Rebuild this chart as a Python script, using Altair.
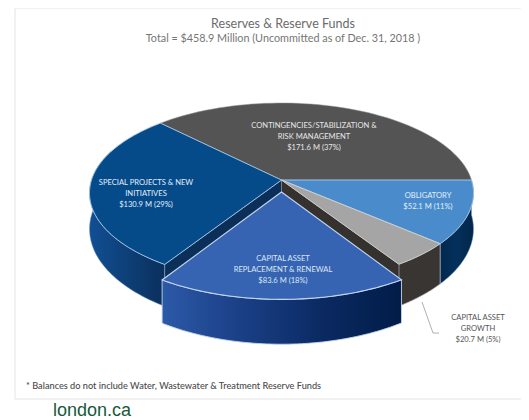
import numpy as np
import altair as alt

# ---- data ----
categories = ["OBLIGATORY", "CAPITAL ASSET GROWTH", "CAPITAL ASSET REPLACEMENT & RENEWAL",
              "SPECIAL PROJECTS & NEW INITIATIVES", "CONTINGENCIES/STABILIZATION & RISK MANAGEMENT"]
values = [52.1, 20.7, 83.6, 130.9, 171.6]
value_labels = ["$52.1 M (11%)", "$20.7 M (5%)", "$83.6 M (18%)", "$130.9 M (29%)", "$171.6 M (37%)"]
label_lines = [["OBLIGATORY"], ["CAPITAL ASSET", "GROWTH"], ["CAPITAL ASSET", "REPLACEMENT & RENEWAL"],
               ["SPECIAL PROJECTS & NEW", "INITIATIVES"], ["CONTINGENCIES/STABILIZATION &", "RISK MANAGEMENT"]]
title_text = "Reserves & Reserve Funds"
subtitle_text = "Total = $458.9 Million (Uncommitted as of Dec. 31, 2018 )"
foot_text = "* Balances do not include Water, Wastewater & Treatment Reserve Funds"
site_text = "london.ca"

# ---- layout (page pixels minus the 8px margin) ----
W, H = 513, 412
CX, CY, RX, RY, K = 273.5, 185, 192, 90, 0.144
PULL = 0.133
FONT = "Lato"


def proj(x, y):
    """Perspective view of a point of the unit disc, to chart pixels."""
    d = 1 - K * y
    return CX + RX * x * np.sqrt(1 - K * K) / d, CY + RY * (y - K) / d


def rim(t0, t1, dy=0.0, n=60):
    t = np.radians(np.linspace(t0, t1, n))
    return proj(np.cos(t), np.sin(t) + dy)


def depth(py):
    return 36 + 7.5 * (py - CY) / RY


def gradient(*colors):
    stops = [alt.GradientStop(color=c, offset=i / (len(colors) - 1)) for i, c in enumerate(colors)]
    return alt.Gradient(gradient="linear", stops=stops, x1=0, x2=1, y1=0, y2=0)


def face(xs, ys, fill, stroke, sw=0.9):
    ring = [[float(a), float(b)] for a, b in zip(xs, ys)]
    ring.append(ring[0])
    feature = {"type": "Feature", "properties": {}, "geometry": {"type": "Polygon", "coordinates": [ring]}}
    return alt.Chart(alt.Data(values=[feature])).mark_geoshape(
        fill=fill, stroke=stroke, strokeWidth=sw
    ).project(type="identity", scale=1, translate=[0, 0])


def top_face(t0, t1, fill, stroke, dy=0.0, sw=0.9):
    xs, ys = rim(t0, t1, dy)
    ax, ay = proj(0.0, dy)
    return face(np.r_[ax, xs], np.r_[ay, ys], fill, stroke, sw)


def outer_wall(t0, t1, fill, stroke, dy=0.0, sw=0.9):
    xs, ys = rim(t0, t1, dy)
    low = ys + depth(ys)
    return face(np.r_[xs, xs[::-1]], np.r_[ys, low[::-1]], fill, stroke, sw)


def inner_wall(t, fill, stroke):
    ax, ay = proj(0.0, 0.0)
    rx, ry = rim(t, t, n=1)
    return face([ax, rx[0], rx[0], ax],
                [ay, ry[0], ry[0] + depth(ry[0]), ay + depth(ay)], fill, stroke, 0.6)


total = sum(values)
edges = np.r_[0, np.cumsum(values)] / total * 360
o0, o1 = edges[0], edges[1]
g0, g1 = edges[1], edges[2]
c0, c1 = edges[2], edges[3]
s0, s1 = edges[3], edges[4]
k0, k1 = edges[4], edges[5]
EDGE, EDGE2 = "#a9c6e4", "#c3d6ec"

frame = face([7, W + 9, W + 9, 7], [0, 0, 391, 391], "#ffffff", "#e4e4e4", 1)

layers = [
    frame,
    outer_wall(0, o1, gradient("#02294f", "#03305b", "#02264a"), "#7fa3c8", sw=0.5),
    outer_wall(g0, g1, "#383533", "#b5b5b5", sw=0.7),
    outer_wall(c1, 200, gradient("#114f93", "#0e3f78", "#0a2f5c"), "#7fa3c8", sw=0.5),
    inner_wall(c1, "#0b2f58", "#7fa3c8"),
    inner_wall(g1, "#34312f", "#8a8a8a"),
    top_face(k0, k1, "#545454", "#8c9aa8", sw=0.5),
    top_face(s0, s1, "#054b8a", EDGE),
    top_face(o0, o1, "#4a8ccb", EDGE),
    top_face(g0, g1, "#a5a5a5", "#d0d0d0"),
    outer_wall(c0, c1, gradient("#2c59a8", "#1a3f85", "#0b2a63", "#011c47"), EDGE2, dy=PULL),
    top_face(c0, c1, "#3764b2", EDGE2, dy=PULL, sw=1.1),
]


def text_layer(lines, x, y, size, color, **kw):
    rows = [{"t": s, "x": x, "y": y + i * kw.get("lh", size * 1.35)} for i, s in enumerate(lines)]
    kw.pop("lh", None)
    return alt.Chart(alt.Data(values=rows)).mark_text(
        fontSize=size, color=color, font=FONT, baseline="middle", **kw
    ).encode(x=alt.X("x:Q", scale=None), y=alt.Y("y:Q", scale=None), text="t:N")


# label anchors: category index -> centre of first line
anchors = {0: (420, 188, "#e3eefa"), 1: (470, 310, "#555555"), 2: (275, 251, "#dce6f5"),
           3: (138, 175, "#e3eefa"), 4: (306, 118, "#e6e6e6")}
for i, (x, y, col) in anchors.items():
    layers.append(text_layer(label_lines[i] + [value_labels[i]], x, y, 7.6, col, lh=10.9, align="center"))

leader_x = [414, 425, 431]
leader_y = [294, 325, 325]
layers.append(alt.Chart(alt.Data(values=[{"x": a, "y": b, "o": i} for i, (a, b) in enumerate(zip(leader_x, leader_y))]))
              .mark_line(color="#b0b0b0", strokeWidth=1)
              .encode(x=alt.X("x:Q", scale=None), y=alt.Y("y:Q", scale=None), order="o:O"))

layers.append(text_layer([title_text], 275, 15.5, 12.5, "#6b6b6b", align="center"))
layers.append(text_layer([subtitle_text], 275, 30.5, 10.8, "#757575", align="center"))
layers.append(text_layer([foot_text], 18, 378, 9.2, "#4a4a4a", align="left", fontWeight=500))
layers.append(alt.Chart(alt.Data(values=[{"t": site_text, "x": 45, "y": 407.5}])).mark_text(
    fontSize=18, color="#17593c", font="Liberation Sans", align="left", baseline="alphabetic"
).encode(x=alt.X("x:Q", scale=None), y=alt.Y("y:Q", scale=None), text="t:N"))

chart = alt.layer(*layers).properties(width=W, height=H, padding=0, autosize="none", background="#ffffff"
    ).configure_view(stroke=None)

chart.save("out.html", embed_options={"renderer": "svg", "actions": False})
